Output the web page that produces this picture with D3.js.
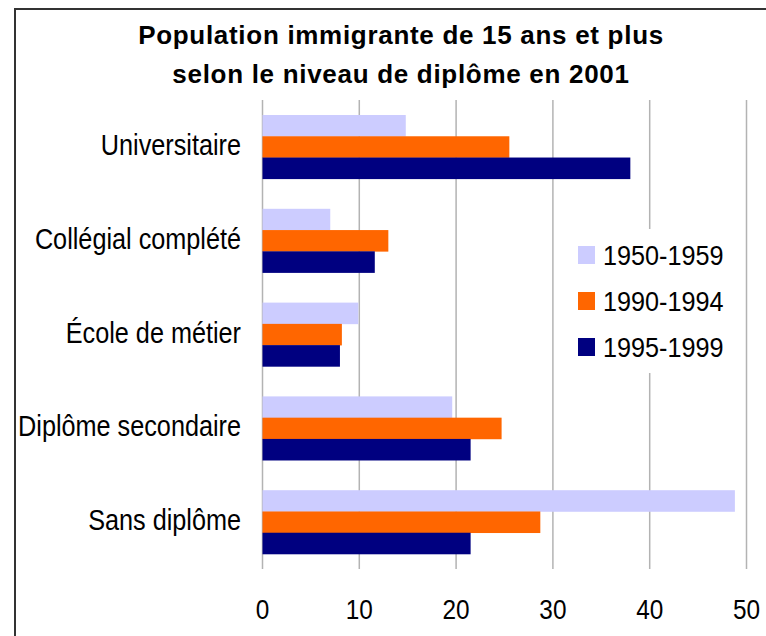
<!DOCTYPE html>
<html>
<head>
<meta charset="utf-8">
<script src="https://cdn.jsdelivr.net/npm/d3@7"></script>
<style>
  html, body { margin: 0; padding: 0; background: #fff; }
  svg { display: block; }
  text { font-family: "Liberation Sans", Arial, sans-serif; fill: #000; }
</style>
</head>
<body>
<svg id="chart" width="766" height="636"></svg>
<script>
const categories = ["Universitaire", "Collégial complété", "École de métier", "Diplôme secondaire", "Sans diplôme"];
const seriesNames = ["1950-1959", "1990-1994", "1995-1999"];
const values1950 = [14.8, 7.0, 9.9, 19.6, 48.8];
const values1990 = [25.5, 13.0, 8.2, 24.7, 28.7];
const values1995 = [38.0, 11.6, 8.0, 21.5, 21.5];
const colors = ["#ccccff", "#ff6600", "#000080"];
const xTicks = [0, 10, 20, 30, 40, 50];
const titleLines = ["Population immigrante de 15 ans et plus", "selon le niveau de diplôme en 2001"];

const svg = d3.select("#chart");
const SX = 0.87;

function addText(sel, x, y, str, opts) {
  const t = sel.append("text")
    .attr("transform", `translate(${x},${y}) scale(${opts.sx || SX},1)`)
    .attr("text-anchor", opts.anchor || "start")
    .attr("font-size", opts.size)
    .attr("font-weight", opts.weight || "normal")
    .text(str);
  if (opts.ls) t.attr("letter-spacing", opts.ls);
  return t;
}

// outer frame
svg.append("rect")
  .attr("x", 15).attr("y", 9).attr("width", 800).attr("height", 700)
  .attr("fill", "none").attr("stroke", "#333").attr("stroke-width", 2);

const x = d3.scaleLinear().domain([0, 50]).range([262.5, 746.5]);
const y = d3.scaleBand().domain(categories).range([100, 569]).paddingInner(0.32).paddingOuter(0.16);
const ySub = d3.scaleBand().domain(seriesNames).range([0, y.bandwidth()]);

// gridlines
svg.append("g").selectAll("line").data(xTicks).join("line")
  .attr("x1", d => x(d)).attr("x2", d => x(d))
  .attr("y1", 100).attr("y2", 569)
  .attr("stroke", "#b3b3b3").attr("stroke-width", 1.5);

// bars
const seriesData = [values1950, values1990, values1995];
seriesNames.forEach((s, si) => {
  svg.append("g").selectAll("rect").data(categories).join("rect")
    .attr("x", x(0))
    .attr("y", c => y(c) + ySub(s))
    .attr("width", (c, i) => x(seriesData[si][i]) - x(0))
    .attr("height", ySub.bandwidth() + 0.3)
    .attr("fill", colors[si]);
});

// category labels
categories.forEach(c => {
  addText(svg, 241, y(c) + y.bandwidth() / 2 + 8, c, { size: 29, anchor: "end" });
});

// x tick labels
xTicks.forEach(t => {
  addText(svg, x(t), 619, String(t), { size: 28, anchor: "middle" });
});

// title
titleLines.forEach((line, i) => {
  addText(svg, 401, 44 + i * 39, line, { size: 26, anchor: "middle", weight: "bold", sx: 1, ls: 0.7 });
});

// legend
const lg = svg.append("g");
lg.append("rect").attr("x", 563).attr("y", 229).attr("width", 178).attr("height", 144).attr("fill", "#fff");
seriesNames.forEach((s, i) => {
  const yy = 246 + i * 46;
  lg.append("rect").attr("x", 578).attr("y", yy).attr("width", 17).attr("height", 18).attr("fill", colors[i]);
  addText(lg, 603, yy + 19, s, { size: 28, anchor: "start", sx: 0.9 });
});
</script>
</body>
</html>
